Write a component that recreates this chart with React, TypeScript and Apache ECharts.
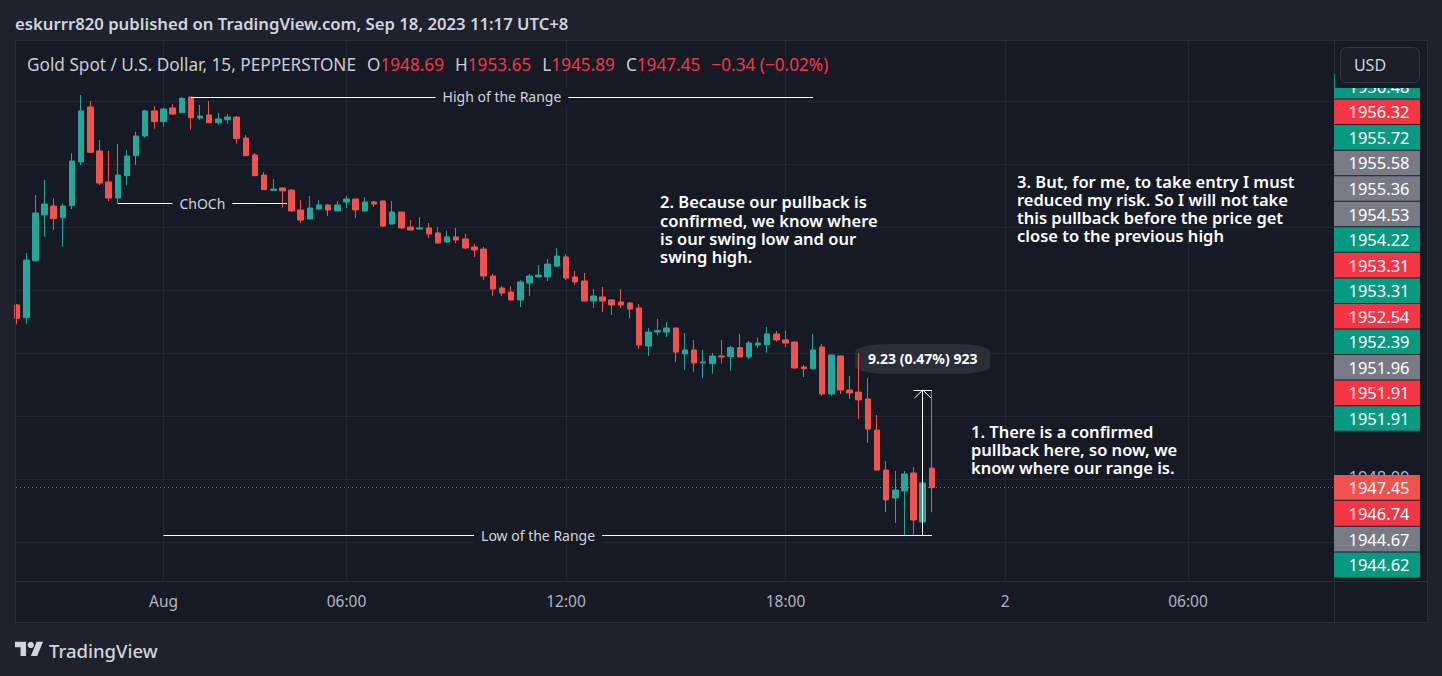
import React, { useEffect, useRef } from "react";
import * as echarts from "echarts";

// ---------------- DATA ----------------
const opens = [1959.05,1958.24,1961.86,1964.76,1965.33,1964.59,1965.35,1968.13,1971.62,1968.83,
1966.86,1965.84,1967.26,1968.53,1969.78,1971.37,1970.69,1971.56,1971.26,1972.25,
1970.92,1971.11,1970.62,1970.81,1970.98,1969.65,1968.57,1967.30,1966.33,1966.48,
1966.35,1965.08,1964.51,1965.14,1965.40,1965.02,1965.59,1965.78,1965.02,1965.59,
1965.65,1964.19,1964.95,1964.00,1963.87,1963.94,1963.62,1963.05,1963.37,1963.24,
1962.73,1962.60,1960.89,1960.13,1959.87,1959.37,1960.44,1960.83,1960.83,1961.52,
1962.10,1960.83,1960.57,1959.30,1959.56,1959.37,1959.24,1959.17,1958.86,1956.44,
1957.33,1957.33,1957.59,1955.94,1956.19,1955.37,1955.32,1955.81,1955.77,1956.34,
1955.75,1956.51,1956.53,1957.21,1956.83,1956.70,1955.11,1955.00,1956.38,1953.40,
1955.81,1953.65,1953.52,1953.08,1951.11,1948.57,1946.79,1947.24,1948.38,1945.27,
1948.69];
const closes = [1958.20,1961.90,1964.89,1965.46,1964.53,1965.33,1968.19,1971.37,1968.74,1966.79,
1965.84,1967.30,1968.51,1969.78,1971.37,1970.69,1971.49,1971.17,1972.17,1970.94,
1971.05,1970.62,1970.86,1970.98,1969.61,1968.53,1967.26,1966.37,1966.41,1966.29,
1965.02,1964.44,1965.21,1965.40,1965.08,1965.40,1965.78,1965.08,1965.59,1965.46,
1964.06,1964.95,1963.94,1963.81,1963.94,1963.56,1962.98,1963.37,1963.17,1962.67,
1962.54,1960.89,1960.06,1959.81,1959.37,1960.51,1960.89,1960.95,1961.65,1962.16,
1960.76,1960.51,1959.30,1959.62,1959.30,1959.05,1959.05,1958.79,1956.51,1957.33,
1957.42,1957.59,1956.06,1956.19,1955.37,1955.43,1955.81,1955.75,1956.34,1955.75,
1956.63,1956.63,1957.21,1956.83,1956.63,1955.05,1955.00,1956.19,1953.40,1955.87,
1953.65,1953.46,1953.02,1951.17,1948.57,1946.67,1947.30,1948.32,1945.40,1947.75,
1947.45];
const lows = [1957.82,1957.86,1961.80,1963.38,1963.81,1962.75,1965.14,1967.94,1968.68,1966.67,
1965.65,1965.50,1966.67,1967.94,1969.67,1970.24,1970.37,1971.15,1971.24,1970.18,
1970.81,1970.60,1970.50,1970.56,1969.29,1968.50,1967.24,1966.35,1966.29,1965.23,
1964.98,1964.27,1964.49,1965.12,1964.70,1965.00,1965.21,1964.57,1964.95,1965.27,
1964.00,1964.17,1963.87,1963.79,1963.85,1963.30,1962.97,1962.98,1962.98,1962.60,
1962.10,1960.63,1959.62,1959.62,1959.30,1958.92,1959.62,1960.80,1960.57,1961.46,
1960.63,1960.32,1959.28,1958.86,1958.60,1958.41,1958.86,1958.22,1956.25,1955.81,
1957.10,1957.02,1955.43,1954.94,1954.81,1954.39,1954.69,1955.32,1954.88,1955.73,
1955.62,1956.32,1956.02,1956.72,1956.38,1954.98,1954.48,1954.94,1953.27,1953.27,
1953.40,1953.08,1951.81,1950.29,1948.55,1945.90,1945.21,1944.42,1944.42,1945.08,
1945.89];
const highs = [1959.11,1962.35,1966.03,1966.98,1965.82,1965.50,1968.68,1972.38,1972.00,1969.52,
1968.83,1969.27,1968.89,1970.05,1971.43,1971.68,1971.57,1971.81,1972.25,1972.27,
1971.75,1972.00,1971.24,1971.17,1971.05,1969.84,1968.70,1967.47,1967.05,1966.50,
1966.38,1965.71,1965.97,1965.71,1965.45,1965.65,1965.97,1965.80,1965.90,1965.65,
1965.67,1965.65,1964.97,1964.44,1964.63,1964.25,1964.00,1963.75,1963.94,1963.56,
1962.92,1962.73,1961.02,1960.25,1960.25,1960.63,1961.02,1961.59,1961.97,1962.67,
1962.29,1961.21,1961.08,1960.06,1960.19,1959.40,1960.06,1959.24,1959.11,1957.59,
1958.16,1957.99,1957.62,1957.27,1956.83,1956.19,1956.00,1956.83,1956.44,1957.21,
1956.76,1956.97,1957.65,1957.40,1957.42,1956.72,1955.24,1957.21,1956.57,1955.90,
1955.84,1954.54,1956.00,1954.41,1952.06,1949.14,1948.51,1948.51,1948.76,1948.57,
1953.65];

const timeTickIndex = [16, 36, 60, 84, 108, 128];
const timeTickLabels = ["Aug", "06:00", "12:00", "18:00", "2", "06:00"];
const priceGridLines = [1944, 1948, 1952, 1956, 1960, 1964, 1968, 1972];

const legendOHLC = ["1948.69", "1953.65", "1945.89", "1947.45"];
const legendChange = "\u22120.34 (\u22120.02%)";
const lastPrice = 1947.45;

// annotations: [startIndex, endIndex, price]
const rangeHigh = [19, 87, 1972.27];
const chochLine = [11, 29.5, 1965.5];
const rangeLow = [16, 100, 1944.42];
const rangeLowLabelSpan = [52, 61.9];
// measure: [index, fromPrice, toPrice]
const measure = [99, 1944.42, 1953.65];
const measureText = "9.23 (0.47%) 923";

const tagTopLabels = ["1956.48","1956.32","1955.72","1955.58","1955.36","1954.53","1954.22","1953.31","1953.31","1952.54","1952.39","1951.96","1951.91","1951.91"];
const tagTopKinds = ["g","r","g","n","n","n","g","r","g","r","g","n","r","g"];
const tagBottomLabels = ["1947.45","1946.74","1944.67","1944.62"];
const tagBottomKinds = ["c","r","n","g"];

const note1 = ["1. There is a confirmed", "pullback here, so now, we", "know where our range is."];
const note2 = ["2. Because our pullback is", "confirmed, we know where", "is our swing low and our", "swing high."];
const note3 = ["3. But, for me, to take entry I must", "reduced my risk. So I will not take", "this pullback before the price get", "close to the previous high"];

// ---------------- STYLE ----------------
const FONT = "'Noto Sans', sans-serif";
const UP = "#26a69a";
const DOWN = "#ef5350";
const PANE_BG = "#161a25";
const PAGE_BG = "#1e222d";
const BORDER = "#2a2e39";
const GRID = "#232733";
const TAG_COLORS: Record<string, string> = { g: "#089981", r: "#f23645", n: "#787b86", c: "#ef5350" };

const W = 1442, H = 676;
const PL = 16, PR = 1334, PT = 41, PB = 581;
const X_MIN = -0.126, X_MAX = 143.96;
const Y_MIN = 1941.524, Y_MAX = 1975.81;

echarts.graphic.registerShape(
  "tvlogo",
  echarts.graphic.extendPath("M14 22H7V11H0V4h14v18zM28 22h-8l7.5-18h8L28 22z", {})
);

function buildOption() {
  const candleData = opens.map((o, i) => [i, o, closes[i], lows[i], highs[i]]);

  const lineLabel = (text: string) => ({
    show: true,
    position: "insideMiddle",
    formatter: text,
    color: "#d1d4dc",
    fontSize: 14,
    fontFamily: FONT,
    backgroundColor: PANE_BG,
    padding: [2, 7],
    distance: 0,
  });

  const gridMarks: any[] = [
    ...priceGridLines.map((p) => ({ yAxis: p, label: { show: false } })),
    ...timeTickIndex.map((ix, k) => ({
      xAxis: ix,
      label: {
        show: true,
        position: "start",
        distance: 12,
        formatter: timeTickLabels[k],
        color: "#b2b5be",
        fontSize: 15.5,
        fontFamily: FONT,
      },
    })),
  ];

  const capHalf = 1.0;
  const chevDx = 0.9;
  const chevDy = 8 / 15.75;
  const annotationMarks: any[] = [
    [
      { coord: [rangeHigh[0], rangeHigh[2]], label: lineLabel("High of the Range") },
      { coord: [rangeHigh[1], rangeHigh[2]] },
    ],
    [
      { coord: [chochLine[0], chochLine[2]], label: lineLabel("ChOCh") },
      { coord: [chochLine[1], chochLine[2]] },
    ],
    [{ coord: [rangeLow[0], rangeLow[2]] }, { coord: [rangeLow[1], rangeLow[2]] }],
    [
      { coord: [rangeLowLabelSpan[0], rangeLow[2]], label: lineLabel("Low of the Range") },
      { coord: [rangeLowLabelSpan[1], rangeLow[2]] },
    ],
    [{ coord: [measure[0], measure[1]] }, { coord: [measure[0], measure[2]] }],
    [{ coord: [measure[0] - capHalf, measure[2]] }, { coord: [measure[0] + capHalf, measure[2]] }],
    [{ coord: [measure[0] - chevDx, measure[2] - chevDy] }, { coord: [measure[0], measure[2]] }],
    [{ coord: [measure[0], measure[2]] }, { coord: [measure[0] + chevDx, measure[2] - chevDy] }],
    {
      yAxis: lastPrice,
      lineStyle: { color: DOWN, type: [1, 3], width: 1 },
      label: { show: false },
    },
  ];

  const graphics: any[] = [];
  graphics.push({
    type: "rect", z: -1, silent: true,
    shape: { x: 15.5, y: 40.5, width: 1412, height: 582 },
    style: { fill: PANE_BG, stroke: BORDER, lineWidth: 1 },
  });
  graphics.push({ type: "line", z: 100, silent: true, shape: { x1: 15, y1: 581.5, x2: 1428, y2: 581.5 }, style: { stroke: BORDER, lineWidth: 1 } });
  graphics.push({ type: "line", z: 100, silent: true, shape: { x1: 1334.5, y1: 40, x2: 1334.5, y2: 622 }, style: { stroke: BORDER, lineWidth: 1 } });
  graphics.push({ type: "line", z: 100, silent: true, shape: { x1: 15.5, y1: 40, x2: 15.5, y2: 622 }, style: { stroke: BORDER, lineWidth: 1 } });

  // title
  graphics.push({
    type: "text", z: 100, x: 15, y: 23,
    style: {
      text: "eskurrr820 published on TradingView.com, Sep 18, 2023 11:17 UTC+8",
      fill: "#d1d4dc", fontSize: 16.7, fontWeight: 600, fontFamily: FONT, textVerticalAlign: "middle",
    },
  });

  // legend
  const red = "#f23645";
  const LF = 17.2;
  graphics.push({
    type: "text", z: 100, x: 27, y: 64,
    style: {
      text:
        "{t|Gold Spot / U.S. Dollar, 15, PEPPERSTONE}{s|}{k|O}{v|" + legendOHLC[0] + "}{s|}{k|H}{v|" +
        legendOHLC[1] + "}{s|}{k|L}{v|" + legendOHLC[2] + "}{s|}{k|C}{v|" + legendOHLC[3] + "}{s|}{v|" + legendChange + "}",
      textVerticalAlign: "middle",
      rich: {
        t: { fill: "#c9ccd3", fontSize: LF, fontFamily: FONT },
        k: { fill: "#c9ccd3", fontSize: LF, fontFamily: FONT },
        v: { fill: red, fontSize: LF, fontFamily: FONT },
        s: { width: 11 },
      },
    },
  });

  // price scale tags
  const TF = 16.5;
  const tagStepTop = 25.55;
  tagTopLabels.forEach((lab, k) => {
    const y = 74 + k * tagStepTop;
    graphics.push({
      type: "rect", z: 100, silent: true,
      shape: { x: 1334, y, width: 86, height: tagStepTop - 1 },
      style: { fill: TAG_COLORS[tagTopKinds[k]] },
    });
    graphics.push({
      type: "text", z: 100, x: 1379, y: y + (tagStepTop - 1) / 2,
      style: { text: lab, fill: "#ffffff", fontSize: TF, fontFamily: FONT, lineHeight: 20, textAlign: "center", textVerticalAlign: "middle" },
    });
  });
  graphics.push({
    type: "text", z: 99, x: 1379, y: 476,
    style: { text: "1948.00", fill: "#b2b5be", fontSize: TF, fontFamily: FONT, lineHeight: 12, textAlign: "center", textVerticalAlign: "middle" },
  });
  const tagStepBot = 25.85;
  tagBottomLabels.forEach((lab, k) => {
    const y = 475 + k * tagStepBot;
    graphics.push({
      type: "rect", z: 100, silent: true,
      shape: { x: 1334, y, width: 86, height: tagStepBot - 1 },
      style: { fill: TAG_COLORS[tagBottomKinds[k]] },
    });
    graphics.push({
      type: "text", z: 100, x: 1379, y: y + (tagStepBot - 1) / 2,
      style: { text: lab, fill: "#ffffff", fontSize: TF, fontFamily: FONT, lineHeight: 20, textAlign: "center", textVerticalAlign: "middle" },
    });
  });
  graphics.push({
    type: "rect", z: 101, silent: true,
    shape: { x: 1335, y: 41, width: 92, height: 47 },
    style: { fill: PANE_BG },
  });
  graphics.push({
    type: "rect", z: 102, silent: true,
    shape: { x: 1340.5, y: 47.5, width: 79, height: 35, r: 6 },
    style: { fill: "#1b1f2a", stroke: "#363a45", lineWidth: 1 },
  });
  graphics.push({
    type: "text", z: 103, x: 1370, y: 65,
    style: { text: "USD", fill: "#d1d4dc", fontSize: 16, fontFamily: FONT, textAlign: "center", textVerticalAlign: "middle" },
  });

  // notes, one text per line
  const LH = 18.3;
  const addNote = (lines: string[], x: number, yFirst: number, size: number) => {
    lines.forEach((ln, k) => {
      graphics.push({
        type: "text", z: 100, x, y: yFirst + k * LH,
        style: { text: ln, fill: "#ffffff", fontSize: size, fontWeight: 600, fontFamily: FONT, lineHeight: 17, textVerticalAlign: "middle" },
      });
    });
  };
  addNote(note2, 660, 201.7, 16.5);
  addNote(note3, 1017, 181, 16.5);
  addNote(note1, 971, 431, 16.5);

  // logo
  const s = 0.79;
  graphics.push({ type: "tvlogo", z: 100, x: 15, y: 638.6, scaleX: s, scaleY: s, style: { fill: "#d1d4dc" } });
  graphics.push({ type: "circle", z: 100, shape: { cx: 15 + 20 * s, cy: 638.6 + 8 * s, r: 4 * s }, style: { fill: "#d1d4dc" } });
  graphics.push({
    type: "text", z: 100, x: 49, y: 650,
    style: { text: "TradingView", fill: "#d1d4dc", fontSize: 18.5, fontWeight: 500, fontFamily: FONT, textVerticalAlign: "middle" },
  });

  return {
    animation: false,
    backgroundColor: PAGE_BG,
    grid: { left: PL, right: W - PR, top: PT, bottom: H - PB, show: false },
    xAxis: { type: "value", min: X_MIN, max: X_MAX, show: false },
    yAxis: { type: "value", min: Y_MIN, max: Y_MAX, show: false, scale: true },
    series: [
      {
        type: "line",
        data: [],
        z: 0,
        silent: true,
        markLine: {
          z: 0,
          silent: true,
          animation: false,
          symbol: ["none", "none"],
          lineStyle: { color: GRID, width: 1, type: "solid" },
          data: gridMarks,
        },
      },
      {
        type: "candlestick",
        data: candleData,
        barWidth: 6,
        itemStyle: { color: UP, color0: DOWN, borderColor: UP, borderColor0: DOWN, borderWidth: 1 },
        markLine: {
          silent: true,
          animation: false,
          symbol: ["none", "none"],
          lineStyle: { color: "#ffffff", width: 1, type: "solid" },
          label: { show: false },
          data: annotationMarks,
        },
        markPoint: {
          z: 1,
          silent: true,
          animation: false,
          data: [
            {
              coord: [measure[0], measure[2] + 1.97],
              symbol: "roundRect",
              symbolSize: [135, 30],
              itemStyle: { color: "#2a2e39" },
              label: {
                show: true, position: "inside", formatter: measureText,
                color: "#ffffff", fontSize: 14, fontWeight: "bold", fontFamily: FONT,
              },
            },
          ],
        },
      },
    ],
    graphic: graphics,
  };
}

export default function App() {
  const ref = useRef<HTMLDivElement>(null);
  useEffect(() => {
    document.body.style.margin = "0";
    const chart = echarts.init(ref.current!, undefined, { renderer: "svg", width: W, height: H });
    chart.setOption(buildOption() as any);
    return () => chart.dispose();
  }, []);
  return <div ref={ref} style={{ position: "fixed", left: 0, top: 0, width: W, height: H }} />;
}
